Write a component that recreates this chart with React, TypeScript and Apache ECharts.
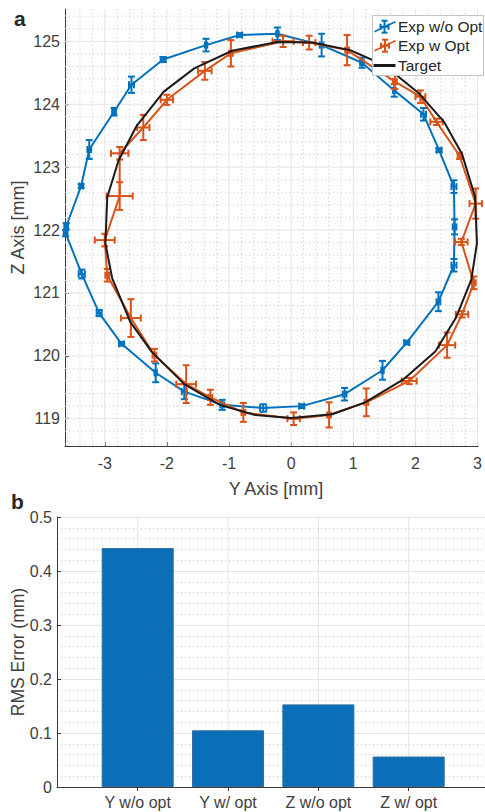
import React, { useEffect, useRef } from 'react';
import * as echarts from 'echarts';

const FONT = '"Liberation Sans", Arial, Helvetica, sans-serif';
const BLUE = '#0072BD';
const ORANGE = '#D95319';
const BLACK = '#1a1a1a';
const AXIS = '#3a3a3a';
const LABEL = '#404040';

// [Y, Z, Y error, Z error]
const expNoOpt: number[][] = [
  [-3.62, 122.06, 0.03, 0.05],
  [-3.38, 122.70, 0.03, 0.03],
  [-3.25, 123.28, 0.03, 0.15],
  [-2.85, 123.88, 0.03, 0.06],
  [-2.57, 124.31, 0.04, 0.13],
  [-2.06, 124.71, 0.04, 0.04],
  [-1.37, 124.94, 0.02, 0.10],
  [-0.83, 125.10, 0.04, 0.03],
  [-0.22, 125.12, 0.02, 0.10],
  [0.49, 124.94, 0.03, 0.18],
  [1.14, 124.66, 0.03, 0.08],
  [1.66, 124.22, 0.02, 0.10],
  [2.13, 123.84, 0.04, 0.10],
  [2.38, 123.27, 0.04, 0.03],
  [2.62, 122.69, 0.04, 0.10],
  [2.63, 122.05, 0.03, 0.12],
  [2.62, 121.44, 0.04, 0.10],
  [2.37, 120.86, 0.03, 0.15],
  [1.86, 120.21, 0.04, 0.03],
  [1.47, 119.77, 0.02, 0.15],
  [0.86, 119.39, 0.03, 0.10],
  [0.17, 119.20, 0.04, 0.03],
  [-0.45, 119.17, 0.05, 0.06],
  [-1.11, 119.22, 0.03, 0.08],
  [-1.72, 119.43, 0.04, 0.12],
  [-2.18, 119.73, 0.02, 0.15],
  [-2.73, 120.19, 0.04, 0.03],
  [-3.09, 120.68, 0.04, 0.05],
  [-3.37, 121.30, 0.05, 0.07],
  [-3.63, 121.95, 0.03, 0.05],
];

const expOpt: number[][] = [
  [-2.96, 121.28, 0.03, 0.10],
  [-3.00, 121.84, 0.16, 0.10],
  [-2.76, 122.54, 0.21, 0.22],
  [-2.76, 123.22, 0.14, 0.10],
  [-2.38, 123.63, 0.10, 0.20],
  [-2.00, 124.07, 0.10, 0.08],
  [-1.39, 124.53, 0.11, 0.14],
  [-0.97, 124.81, 0.03, 0.21],
  [-0.13, 125.00, 0.17, 0.09],
  [0.29, 124.98, 0.10, 0.11],
  [0.90, 124.86, 0.03, 0.24],
  [1.67, 124.36, 0.03, 0.12],
  [2.08, 124.12, 0.08, 0.10],
  [2.34, 123.72, 0.10, 0.05],
  [2.71, 123.18, 0.03, 0.05],
  [2.97, 122.42, 0.10, 0.24],
  [2.74, 121.81, 0.10, 0.05],
  [2.94, 121.16, 0.03, 0.10],
  [2.75, 120.66, 0.10, 0.05],
  [2.51, 120.17, 0.13, 0.20],
  [1.90, 119.60, 0.12, 0.05],
  [1.21, 119.26, 0.03, 0.22],
  [0.61, 119.06, 0.03, 0.20],
  [0.04, 119.00, 0.10, 0.10],
  [-0.77, 119.10, 0.03, 0.15],
  [-1.30, 119.34, 0.03, 0.12],
  [-1.69, 119.55, 0.16, 0.30],
  [-2.20, 120.01, 0.03, 0.10],
  [-2.58, 120.60, 0.16, 0.30],
];

const targetPath: number[][] = [
  [-2.88, 121.23],
  [-2.99, 121.79],
  [-2.96, 122.52],
  [-2.78, 123.10],
  [-2.49, 123.65],
  [-2.05, 124.20],
  [-1.56, 124.57],
  [-0.95, 124.85],
  [-0.22, 124.99],
  [0.34, 124.98],
  [0.95, 124.86],
  [1.50, 124.62],
  [2.05, 124.18],
  [2.46, 123.72],
  [2.75, 123.21],
  [2.96, 122.53],
  [2.99, 121.79],
  [2.90, 121.21],
  [2.65, 120.60],
  [2.32, 120.07],
  [1.80, 119.62],
  [1.19, 119.26],
  [0.66, 119.07],
  [0.00, 119.01],
  [-0.58, 119.06],
  [-1.15, 119.22],
  [-1.72, 119.55],
  [-2.25, 120.07],
  [-2.59, 120.54],
];

const xTicksA = [-3, -2, -1, 0, 1, 2, 3];
const yTicksA = [119, 120, 121, 122, 123, 124, 125];
const xMinorA = [-3.6, -3.4, -3.2, -2.8, -2.6, -2.4, -2.2, -1.8, -1.6, -1.4, -1.2, -0.8, -0.6, -0.4, -0.2,
  0.2, 0.4, 0.6, 0.8, 1.2, 1.4, 1.6, 1.8, 2.2, 2.4, 2.6, 2.8];
const yMinorA = [118.6, 118.8, 119.2, 119.4, 119.6, 119.8, 120.2, 120.4, 120.6, 120.8, 121.2, 121.4, 121.6, 121.8,
  122.2, 122.4, 122.6, 122.8, 123.2, 123.4, 123.6, 123.8, 124.2, 124.4, 124.6, 124.8, 125.2, 125.4];

const barCategories = ['Y w/o opt', 'Y w/ opt', 'Z w/o opt', 'Z w/ opt'];
const barPositions = [1, 2, 3, 4];
const barValues = [0.4425, 0.105, 0.153, 0.0564];

const closeLoop = (pts: number[][]) => [...pts.map((p) => [p[0], p[1]]), [pts[0][0], pts[0][1]]];

const errRender = (color: string) => (params: any, api: any) => {
  const x = api.value(0);
  const y = api.value(1);
  const ex = api.value(2);
  const ey = api.value(3);
  const c = api.coord([x, y]);
  const l = api.coord([x - ex, y]);
  const r = api.coord([x + ex, y]);
  const t = api.coord([x, y + ey]);
  const b = api.coord([x, y - ey]);
  const cap = 3.5;
  const style = { stroke: color, lineWidth: 2, fill: null };
  const ln = (x1: number, y1: number, x2: number, y2: number) => ({
    type: 'line', shape: { x1, y1, x2, y2 }, style,
  });
  return {
    type: 'group',
    children: [
      ln(l[0], c[1], r[0], c[1]),
      ln(l[0], c[1] - cap, l[0], c[1] + cap),
      ln(r[0], c[1] - cap, r[0], c[1] + cap),
      ln(c[0], t[1], c[0], b[1]),
      ln(c[0] - cap, t[1], c[0] + cap, t[1]),
      ln(c[0] - cap, b[1], c[0] + cap, b[1]),
    ],
  };
};

const vGrid = (stroke: string, dash: number[] | null, width: number) => (params: any, api: any) => {
  const cs = params.coordSys;
  const x = api.coord([api.value(0), api.value(1)])[0];
  return {
    type: 'line',
    shape: { x1: x, y1: cs.y, x2: x, y2: cs.y + cs.height },
    style: { stroke, lineWidth: width, lineDash: dash || undefined },
  };
};
const hGrid = (stroke: string, dash: number[] | null, width: number) => (params: any, api: any) => {
  const cs = params.coordSys;
  const y = api.coord([api.value(0), api.value(1)])[1];
  return {
    type: 'line',
    shape: { x1: cs.x, y1: y, x2: cs.x + cs.width, y2: y },
    style: { stroke, lineWidth: width, lineDash: dash || undefined },
  };
};

const MAJOR = '#e4e4e4';
const MINOR = '#c8c8c8';
const LZ = 100;

function legendIcon(cx: number, cy: number, color: string) {
  const s = { stroke: color, lineWidth: 1.6, fill: null };
  const s2 = { stroke: color, lineWidth: 2, fill: null };
  return [
    { type: 'polyline', z: LZ, shape: { points: [[374.5, cy + 5], [cx, cy], [395.5, cy - 5]] }, style: s },
    { type: 'line', z: LZ, shape: { x1: cx, y1: cy - 6, x2: cx, y2: cy + 6 }, style: s2 },
    { type: 'line', z: LZ, shape: { x1: cx - 3, y1: cy - 6, x2: cx + 3, y2: cy - 6 }, style: s2 },
    { type: 'line', z: LZ, shape: { x1: cx - 3, y1: cy + 6, x2: cx + 3, y2: cy + 6 }, style: s2 },
    { type: 'line', z: LZ, shape: { x1: cx - 4, y1: cy, x2: cx + 4, y2: cy }, style: s2 },
    { type: 'line', z: LZ, shape: { x1: cx - 4, y1: cy - 3, x2: cx - 4, y2: cy + 3 }, style: s2 },
    { type: 'line', z: LZ, shape: { x1: cx + 4, y1: cy - 3, x2: cx + 4, y2: cy + 3 }, style: s2 },
  ];
}

export default function App() {
  const ref = useRef<HTMLDivElement>(null);
  useEffect(() => {
    if (!ref.current) return;
    const chart = echarts.init(ref.current, null, { renderer: 'svg' });
    const axisLine = { show: true, onZero: false, lineStyle: { color: AXIS, width: 1 } };
    const tickStyle = { color: AXIS, width: 1 };
    const option: any = {
      animation: false,
      textStyle: { fontFamily: FONT },
      grid: [
        { left: 65, top: 9, width: 418, height: 437, containLabel: false },
        { left: 57, top: 517, width: 428, height: 270, containLabel: false },
      ],
      xAxis: [
        {
          type: 'value', gridIndex: 0, min: -3.64, max: 3.01,
          axisLine,
          axisTick: { show: true, inside: true, length: 4, customValues: xTicksA, lineStyle: tickStyle },
          axisLabel: { customValues: xTicksA, margin: 9, fontSize: 16, color: LABEL, fontFamily: FONT },
          splitLine: { show: false },
        },
        {
          type: 'value', gridIndex: 1, min: 0.1066, max: 4.845,
          axisLine,
          axisTick: { show: true, inside: true, length: 4, customValues: barPositions, lineStyle: tickStyle },
          axisLabel: {
            customValues: barPositions, margin: 7, fontSize: 16, color: LABEL, fontFamily: FONT,
            formatter: (v: number) => barCategories[Math.round(v) - 1] || '',
          },
          splitLine: { show: false },
        },
        {
          type: 'value', gridIndex: 1, position: 'top', min: 0.1066, max: 4.845,
          axisLine: { show: false },
          axisTick: { show: true, inside: true, length: 4, customValues: barPositions, lineStyle: tickStyle },
          axisLabel: { show: false },
          splitLine: { show: false },
        },
      ],
      yAxis: [
        {
          type: 'value', gridIndex: 0, min: 118.566, max: 125.514,
          axisLine,
          axisTick: { show: true, inside: true, length: 4, customValues: yTicksA, lineStyle: tickStyle },
          axisLabel: { customValues: yTicksA, margin: 5, fontSize: 16, color: LABEL, fontFamily: FONT },
          splitLine: { show: false },
        },
        {
          type: 'value', gridIndex: 1, min: 0, max: 0.5, interval: 0.1,
          axisLine,
          axisTick: { show: true, inside: true, length: 4, lineStyle: tickStyle },
          axisLabel: { margin: 5, fontSize: 16, color: LABEL, fontFamily: FONT },
          splitLine: { show: true, lineStyle: { color: MAJOR, width: 1 } },
          minorTick: { show: false, splitNumber: 5 },
          minorSplitLine: { show: true, lineStyle: { color: MINOR, width: 1, type: [1, 3] } },
        },
      ],
      series: [
        { type: 'custom', xAxisIndex: 0, yAxisIndex: 0, silent: true, z: 1, data: xMinorA.map((v) => [v, 122]), renderItem: vGrid(MINOR, [1, 3], 1) },
        { type: 'custom', xAxisIndex: 0, yAxisIndex: 0, silent: true, z: 1, data: yMinorA.map((v) => [0, v]), renderItem: hGrid(MINOR, [1, 3], 1) },
        { type: 'custom', xAxisIndex: 0, yAxisIndex: 0, silent: true, z: 1, data: xTicksA.map((v) => [v, 122]), renderItem: vGrid(MAJOR, null, 1) },
        { type: 'custom', xAxisIndex: 0, yAxisIndex: 0, silent: true, z: 1, data: yTicksA.map((v) => [0, v]), renderItem: hGrid(MAJOR, null, 1) },
        { type: 'custom', xAxisIndex: 1, yAxisIndex: 1, silent: true, z: 1, data: barPositions.map((v) => [v, 0.25]), renderItem: vGrid(MAJOR, null, 1) },
        {
          name: 'Exp w/o Opt', type: 'line', xAxisIndex: 0, yAxisIndex: 0, z: 3,
          data: closeLoop(expNoOpt), symbol: 'none', showSymbol: false,
          lineStyle: { color: BLUE, width: 2 },
        },
        {
          type: 'custom', xAxisIndex: 0, yAxisIndex: 0, z: 3, silent: true,
          data: expNoOpt, renderItem: errRender(BLUE),
        },
        {
          name: 'Exp w Opt', type: 'line', xAxisIndex: 0, yAxisIndex: 0, z: 4,
          data: closeLoop(expOpt), symbol: 'none', showSymbol: false,
          lineStyle: { color: ORANGE, width: 2 },
        },
        {
          type: 'custom', xAxisIndex: 0, yAxisIndex: 0, z: 4, silent: true,
          data: expOpt, renderItem: errRender(ORANGE),
        },
        {
          name: 'Target', type: 'line', xAxisIndex: 0, yAxisIndex: 0, z: 5,
          data: closeLoop(targetPath), symbol: 'none', showSymbol: false,
          lineStyle: { color: BLACK, width: 2 },
        },
        {
          type: 'bar', xAxisIndex: 1, yAxisIndex: 1, z: 3,
          data: barPositions.map((p, i) => [p, barValues[i]]),
          barWidth: 72,
          itemStyle: { color: '#0b6fb8', borderColor: '#2f6aa0', borderWidth: 1 },
        },
      ],
      graphic: [
        { type: 'text', x: 14, y: 18, style: { text: 'a', fontSize: 21, fontWeight: 'bold', fontFamily: FONT, fill: '#262626', align: 'left', verticalAlign: 'middle' } },
        { type: 'text', x: 11, y: 501, style: { text: 'b', fontSize: 21, fontWeight: 'bold', fontFamily: FONT, fill: '#262626', align: 'left', verticalAlign: 'middle' } },
        { type: 'text', x: 276, y: 489, style: { text: 'Y Axis [mm]', fontSize: 18, fontFamily: FONT, fill: LABEL, align: 'center', verticalAlign: 'middle' } },
        { type: 'text', x: 18, y: 227.5, rotation: Math.PI / 2, style: { text: 'Z Axis [mm]', fontSize: 18, fontFamily: FONT, fill: LABEL, align: 'center', verticalAlign: 'middle' } },
        { type: 'text', x: 18, y: 652, rotation: Math.PI / 2, style: { text: 'RMS Error (mm)', fontSize: 17.5, fontFamily: FONT, fill: LABEL, align: 'center', verticalAlign: 'middle' } },
        { type: 'rect', z: LZ, shape: { x: 372.5, y: 15.5, width: 111, height: 60 }, style: { fill: '#ffffff', stroke: '#c4c4c4', lineWidth: 1 } },
        ...legendIcon(384.5, 26.7, BLUE),
        ...legendIcon(385, 45.7, ORANGE),
        { type: 'line', z: LZ, shape: { x1: 373.5, y1: 65.5, x2: 395.5, y2: 65.5 }, style: { stroke: BLACK, lineWidth: 3 } },
        { type: 'text', z: LZ, x: 398, y: 26.7, style: { text: 'Exp w/o Opt', fontSize: 15.5, fontFamily: FONT, fill: '#262626', align: 'left', verticalAlign: 'middle' } },
        { type: 'text', z: LZ, x: 398, y: 45.7, style: { text: 'Exp w Opt', fontSize: 15.5, fontFamily: FONT, fill: '#262626', align: 'left', verticalAlign: 'middle' } },
        { type: 'text', z: LZ, x: 398, y: 65.5, style: { text: 'Target', fontSize: 15.5, fontFamily: FONT, fill: '#262626', align: 'left', verticalAlign: 'middle' } },
      ],
    };
    chart.setOption(option);
    return () => chart.dispose();
  }, []);
  return (
    <div
      ref={ref}
      style={{ position: 'fixed', left: 0, top: 0, width: 485, height: 812, background: '#ffffff' }}
    />
  );
}
